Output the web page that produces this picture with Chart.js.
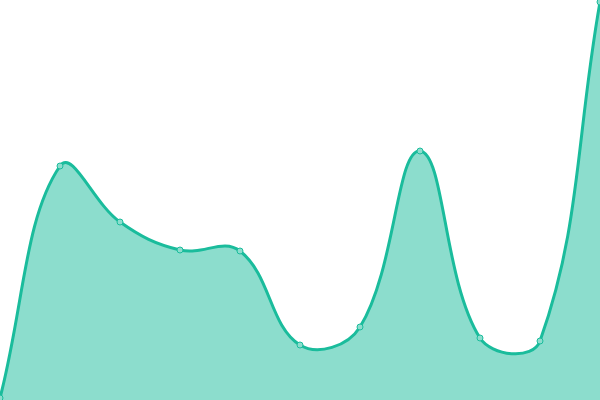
<!DOCTYPE html>
<html>
<head>
<meta charset="utf-8">
<script src="https://cdn.jsdelivr.net/npm/chart.js@4"></script>
<style>
  html, body { margin: 0; padding: 0; background: #fff; }
  #wrap { width: 600px; height: 400px; }
</style>
</head>
<body>
<div id="wrap"><canvas id="chart"></canvas></div>
<script>
const labels = ["1", "2", "3", "4", "5", "6", "7", "8", "9", "10", "11"];
const values = [2, 234, 178, 150, 149, 55, 73, 249, 62, 59, 398];

const LINE = "rgb(26, 188, 156)";
const FILL = "rgba(26, 188, 156, 0.5)";

new Chart(document.getElementById("chart"), {
  type: "line",
  data: {
    labels: labels,
    datasets: [{
      data: values,
      borderColor: LINE,
      backgroundColor: FILL,
      fill: true,
      tension: 0.4,
      borderWidth: 3,
      pointRadius: 3,
      pointBorderWidth: 1,
      pointBackgroundColor: "rgb(140, 221, 205)",
      pointBorderColor: LINE,
    }],
  },
  options: {
    responsive: true,
    maintainAspectRatio: false,
    animation: false,
    layout: { padding: 0, autoPadding: false },
    plugins: {
      legend: { display: false },
      tooltip: { enabled: false },
    },
    scales: {
      x: { display: false, offset: false },
      y: { display: false, min: 0, max: 400 },
    },
  },
});
</script>
</body>
</html>
